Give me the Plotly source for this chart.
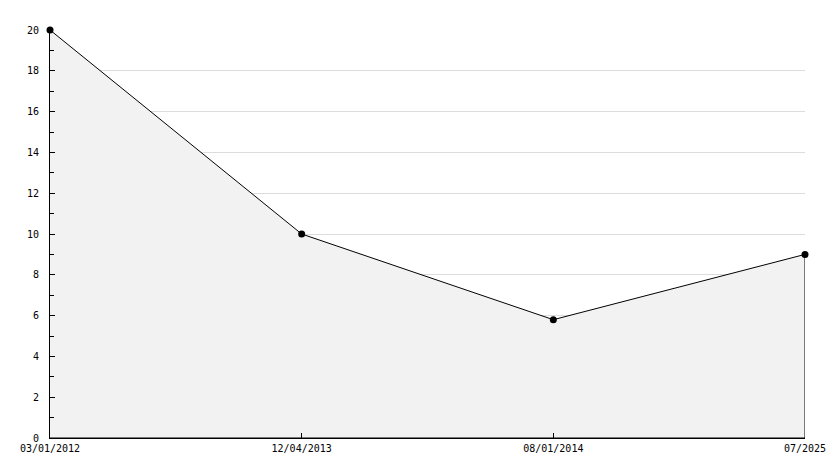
import plotly.graph_objects as go

x_labels = ["03/01/2012", "12/04/2013", "08/01/2014", "07/2025"]
values = [20, 10, 5.8, 9]
y_ticks = list(range(0, 21, 2))

n = len(x_labels)
xs = list(range(n))

fig = go.Figure()
fig.add_trace(go.Scatter(
    x=xs + [n - 1, 0], y=values + [0, 0],
    mode="lines", fill="toself", fillcolor="#f2f2f2",
    line=dict(color="black", width=1), hoverinfo="skip", cliponaxis=False,
))
fig.add_trace(go.Scatter(
    x=xs, y=values, mode="markers",
    marker=dict(color="black", size=7, symbol="circle"), cliponaxis=False,
))

font = dict(family="DejaVu Sans Mono", size=10, color="black")
fig.update_layout(
    width=834, height=468,
    margin=dict(l=50, r=29, t=30, b=30, pad=0, autoexpand=False),
    paper_bgcolor="white", plot_bgcolor="white",
    showlegend=False,
    font=font,
    xaxis=dict(
        range=[0, n - 1], tickmode="array", tickvals=xs, ticktext=x_labels,
        showgrid=False, zeroline=False, showline=True, linecolor="black", linewidth=1,
        ticks="inside", ticklen=5, tickcolor="black", tickfont=font,
        automargin=False, ticklabelstandoff=1,
    ),
    yaxis=dict(
        range=[0, 20], tickmode="array", tickvals=y_ticks,
        showgrid=True, gridcolor="#dcdcdc", gridwidth=1,
        zeroline=False, showline=True, linecolor="black", linewidth=1,
        ticks="inside", ticklen=5, tickcolor="black", tickfont=font,
        automargin=False, ticklabelstandoff=8,
        minor=dict(ticks="inside", ticklen=4, dtick=1, tickcolor="black", showgrid=False),
    ),
)
fig.write_html("out.html", config={"displayModeBar": False},
               post_script="document.body.style.margin='0';")
